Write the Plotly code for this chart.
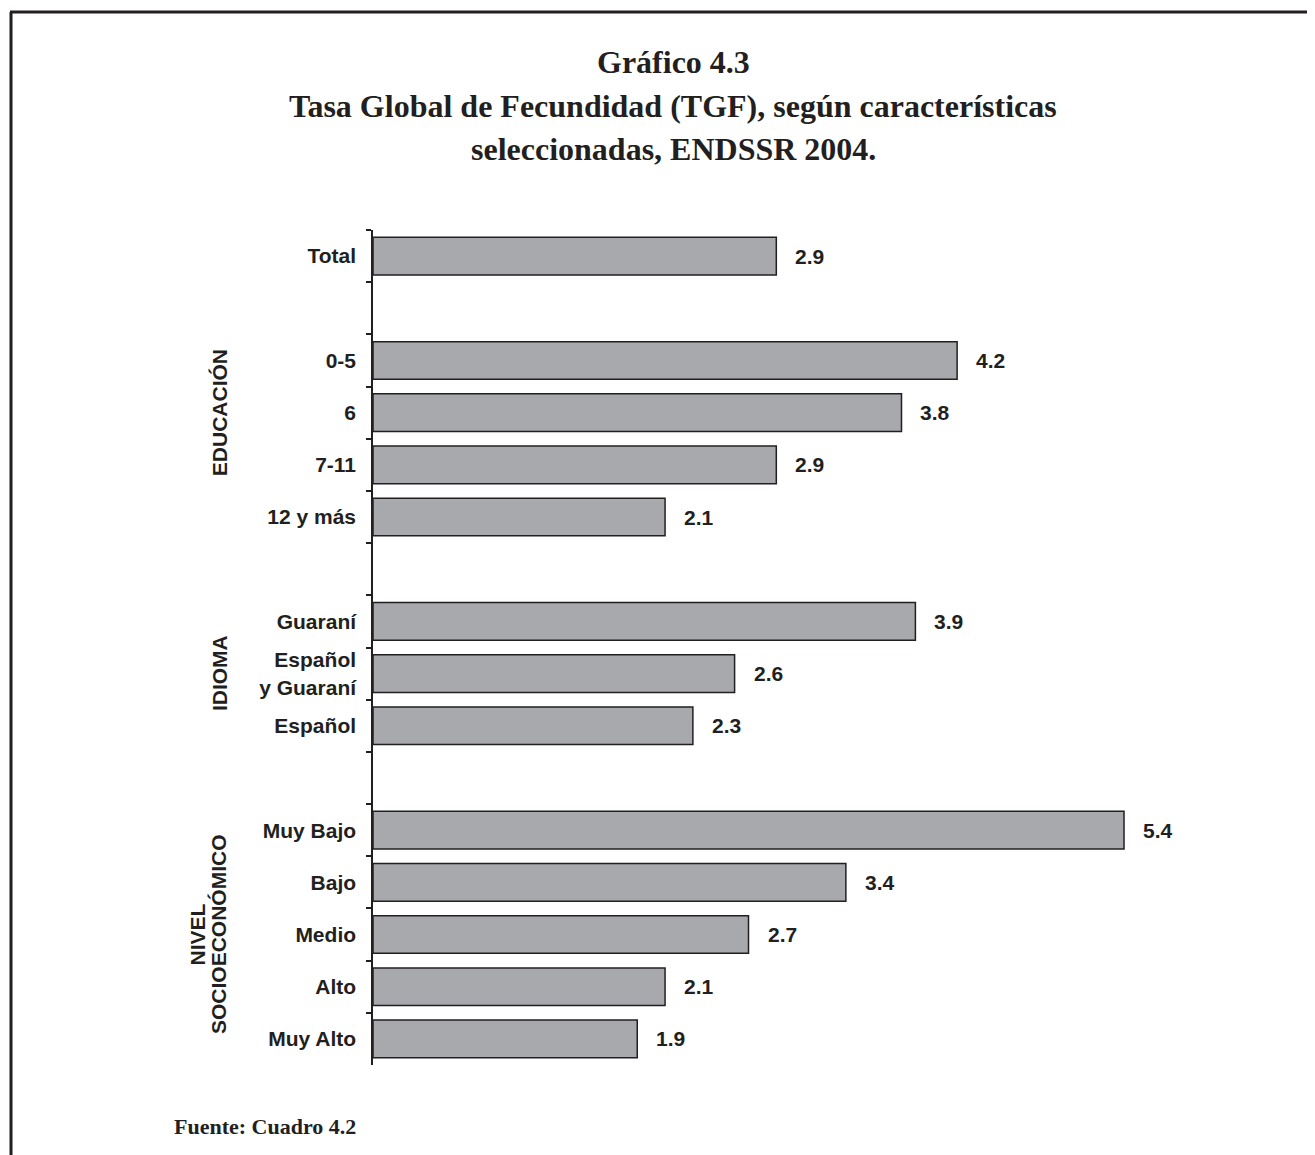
import plotly.graph_objects as go

# ---- data ----
categories = ["Total", "\u200b",
              "0-5", "6", "7-11", "12 y más", "\u200b\u200b",
              "Guaraní", "Español<br>y Guaraní", "Español", "\u200b\u200b\u200b",
              "Muy Bajo", "Bajo", "Medio", "Alto", "Muy Alto"]
bar_labels = ["Total", "0-5", "6", "7-11", "12 y más",
              "Guaraní", "Español<br>y Guaraní", "Español",
              "Muy Bajo", "Bajo", "Medio", "Alto", "Muy Alto"]
tgf_values = [2.9, 4.2, 3.8, 2.9, 2.1, 3.9, 2.6, 2.3, 5.4, 3.4, 2.7, 2.1, 1.9]
groups = [("EDUCACIÓN", "6"), ("IDIOMA", "Español<br>y Guaraní")]
title_lines = ["Gráfico 4.3",
               "Tasa Global de Fecundidad (TGF), según características",
               "seleccionadas, ENDSSR 2004."]
source_text = "Fuente: Cuadro 4.2"

# ---- layout geometry (pixels; page body adds an 8px offset) ----
OFF = 8
W, H = 1315 - OFF, 1155 - OFF
ML, MT = 373 - OFF, 230 - OFF
MB = H - (1065 - OFF)
MR = W - (1277 - OFF)
PW, PH = W - ML - MR, H - MT - MB

def px(x):
    return (x - OFF - ML) / PW

def py(y):
    return (H - MB - (y - OFF)) / PH

def cat_pos(c):
    return categories.index(c)

INK = "#231f20"
SANS = "Liberation Sans, Arial, sans-serif"
SERIF = "Liberation Serif, Times New Roman, serif"

fig = go.Figure()
fig.add_trace(go.Bar(
    x=tgf_values, y=bar_labels, orientation="h",
    marker=dict(color="#a7a9ac", line=dict(color=INK, width=1.5)),
    hoverinfo="skip",
))

annotations = []
for v, c in zip(tgf_values, bar_labels):
    annotations.append(dict(x=v, y=cat_pos(c), xref="x", yref="y", text=f"{v:.1f}",
                            showarrow=False, xanchor="left", xshift=17,
                            font=dict(family=SANS, size=21, color=INK, weight="bold")))
for name, cat in groups:
    annotations.append(dict(x=px(219.5), y=cat_pos(cat), xref="paper", yref="y", text=name,
                            showarrow=False, textangle=-90, xanchor="center", yanchor="middle",
                            font=dict(family=SANS, size=21, color=INK, weight="bold")))
annotations.append(dict(x=px(198), y=cat_pos("Medio"), xref="paper", yref="y", text="NIVEL",
                        showarrow=False, textangle=-90, xanchor="center", yanchor="middle",
                        font=dict(family=SANS, size=21, color=INK, weight="bold")))
annotations.append(dict(x=px(218.5), y=cat_pos("Medio"), xref="paper", yref="y",
                        text="SOCIOECONÓMICO",
                        showarrow=False, textangle=-90, xanchor="center", yanchor="middle",
                        font=dict(family=SANS, size=21, color=INK, weight="bold")))
for text, yy in zip(title_lines, [62, 106, 149]):
    annotations.append(dict(x=px(673), y=py(yy), xref="paper", yref="paper", text=text,
                            showarrow=False, xanchor="center", yanchor="middle",
                            font=dict(family=SERIF, size=32, color=INK, weight="bold")))
annotations.append(dict(x=px(172), y=py(1126), xref="paper", yref="paper", text=source_text,
                        showarrow=False, xanchor="left", yanchor="middle",
                        font=dict(family=SERIF, size=22, color=INK, weight="bold")))

shapes = [dict(type="line", xref="paper", yref="paper",
               x0=px(11), y0=py(1160), x1=px(11), y1=py(12),
               line=dict(color=INK, width=3)),
          dict(type="line", xref="paper", yref="paper",
               x0=px(10), y0=py(12), x1=px(1320), y1=py(12),
               line=dict(color=INK, width=3))]

fig.update_layout(
    width=W, height=H,
    margin=dict(l=ML, r=MR, t=MT, b=MB),
    paper_bgcolor="white", plot_bgcolor="white",
    showlegend=False, bargap=0.28,
    xaxis=dict(range=[0, 6.5], visible=False, fixedrange=True),
    yaxis=dict(type="category", categoryorder="array", categoryarray=categories,
               autorange="reversed", showline=True, linecolor=INK, linewidth=1.5,
               ticks="outside", ticklen=5, tickcolor=INK, tickwidth=1.5,
               tickson="boundaries", showgrid=False, zeroline=False,
               ticklabelstandoff=11,
               tickfont=dict(family=SANS, size=21, color=INK, weight="bold")),
    annotations=annotations, shapes=shapes,
)

fig.write_html("out.html")
